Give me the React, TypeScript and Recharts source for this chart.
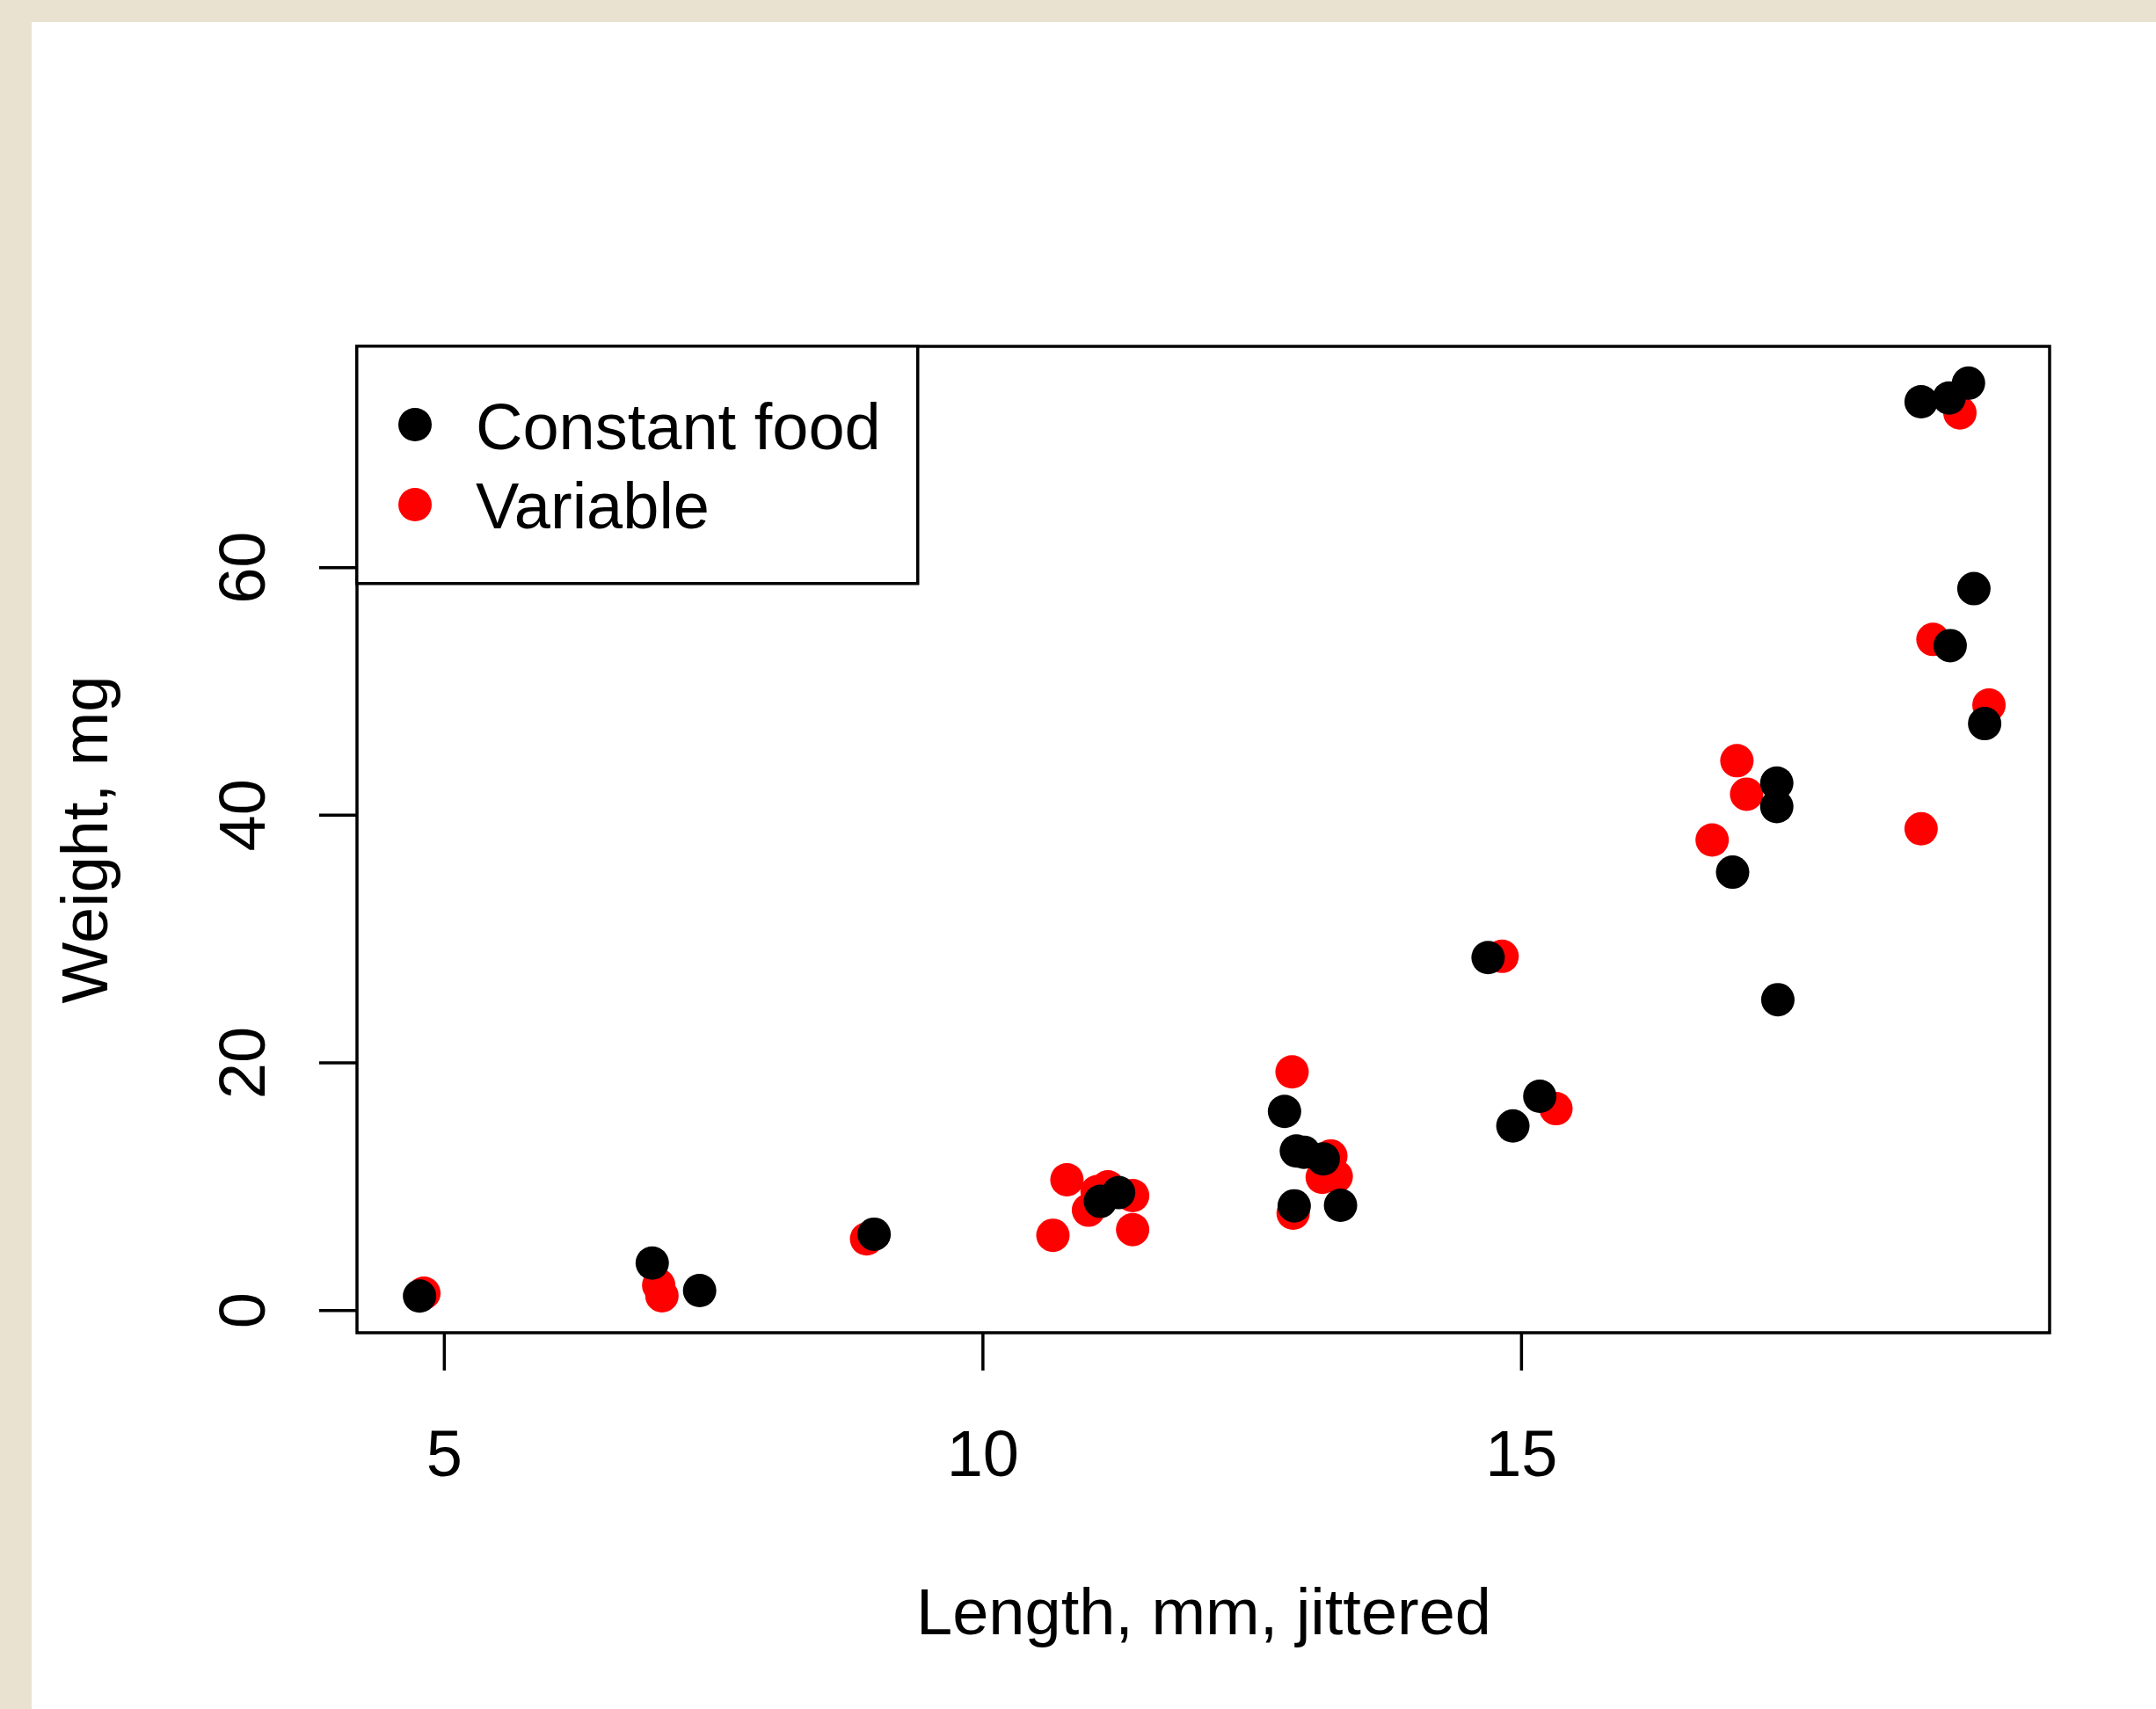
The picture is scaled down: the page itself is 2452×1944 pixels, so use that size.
import React from 'react';
import { ScatterChart, Scatter, XAxis, YAxis, ReferenceArea, Legend } from 'recharts';

// lizard lengths (mm, jittered) and weights (mg)
const constantLength = [4.77, 6.93, 7.37, 8.99, 11.09, 11.26, 12.80, 12.91, 12.98, 13.16, 12.89, 13.32, 14.69, 14.92, 15.17, 16.96, 17.37, 17.37, 17.38, 18.71, 18.97, 19.15, 19.20, 18.98, 19.30];
const constantWeight = [1.16, 3.83, 1.61, 6.16, 8.81, 9.52, 16.08, 12.88, 12.78, 12.24, 8.45, 8.50, 28.5, 14.9, 17.3, 35.4, 42.6, 40.7, 25.1, 73.4, 73.7, 74.9, 58.3, 53.7, 47.4];
const variableLength = [4.81, 6.99, 7.02, 8.92, 10.65, 10.78, 10.98, 11.06, 11.16, 11.39, 11.39, 12.87, 13.23, 13.15, 13.28, 12.88, 14.82, 15.32, 16.77, 17.00, 17.09, 18.71, 19.07, 18.82, 19.34];
const variableWeight = [1.40, 2.04, 1.19, 5.78, 6.07, 10.56, 8.10, 9.60, 9.99, 9.28, 6.53, 19.27, 12.48, 10.75, 10.82, 7.86, 28.6, 16.3, 38.0, 44.4, 41.7, 38.9, 72.5, 54.2, 48.9];

const xTicks = [5, 10, 15];
const yTicks = [0, 20, 40, 60];
const xDomain = [4.189, 19.903];
const yDomain = [-1.8, 77.87];

const constantData = constantLength.map((x, i) => ({ x, y: constantWeight[i] }));
const variableData = variableLength.map((x, i) => ({ x, y: variableWeight[i] }));

const FONT = '"Liberation Sans", Arial, Helvetica, sans-serif';
const FS = 74;

const Dot = (color: string) => (p: any) => <circle cx={p.cx} cy={p.cy} r={19} fill={color} />;

const XTick = (p: any) => (
  <text x={p.x} y={p.y + 120} textAnchor="middle" fontFamily={FONT} fontSize={FS} fill="#000">
    {p.payload.value}
  </text>
);

const YTick = (p: any) => {
  const x = p.x - 62;
  return (
    <text x={x} y={p.y} transform={`rotate(-90, ${x}, ${p.y})`} textAnchor="middle" fontFamily={FONT} fontSize={FS} fill="#000">
      {p.payload.value}
    </text>
  );
};

const LegendBox = () => {
  const items = [
    { name: 'Constant food', color: '#000' },
    { name: 'Variable', color: '#ff0000' },
  ];
  return (
    <svg width={642} height={274} style={{ display: 'block' }}>
      <rect x={1.75} y={1.75} width={638} height={270} fill="#fff" stroke="#000" strokeWidth={3.5} />
      {items.map((it, i) => (
        <g key={it.name}>
          <circle cx={68} cy={91 + i * 91} r={19} fill={it.color} />
          <text x={137} y={119 + i * 90} fontFamily={FONT} fontSize={FS} fill="#000">{it.name}</text>
        </g>
      ))}
    </svg>
  );
};

export default function App() {
  return (
    <div style={{ position: 'relative', width: 2452, height: 1944, background: '#e9e2d0', overflow: 'hidden' }}>
      <style>{`body{margin:0}`}</style>
      <div style={{ position: 'absolute', left: 36, top: 25, right: 0, bottom: 0, background: '#fff' }} />
      <div style={{ position: 'absolute', left: 0, top: 0 }}>
        <ScatterChart width={2452} height={1944} margin={{ top: 394, right: 121, bottom: 0, left: 0 }}>
          <XAxis
            type="number"
            dataKey="x"
            domain={xDomain}
            ticks={xTicks}
            allowDataOverflow
            height={428}
            tickSize={43}
            tickMargin={0}
            axisLine={false}
            tickLine={{ stroke: '#000', strokeWidth: 3.5 }}
            tick={XTick}
          />
          <YAxis
            type="number"
            dataKey="y"
            domain={yDomain}
            ticks={yTicks}
            allowDataOverflow
            width={406}
            tickSize={43}
            tickMargin={0}
            axisLine={false}
            tickLine={{ stroke: '#000', strokeWidth: 3.5 }}
            tick={YTick}
          />
          <ReferenceArea
            x1={xDomain[0]}
            x2={xDomain[1]}
            y1={yDomain[0]}
            y2={yDomain[1]}
            fill="none"
            fillOpacity={0}
            stroke="#000"
            strokeWidth={3.5}
            ifOverflow="visible"
          />
          <Scatter name="Variable" data={variableData} fill="#ff0000" shape={Dot('#ff0000')} isAnimationActive={false} />
          <Scatter name="Constant food" data={constantData} fill="#000" shape={Dot('#000')} isAnimationActive={false} />
          <Legend
            layout="vertical"
            align="center"
            verticalAlign="middle"
            content={LegendBox}
            wrapperStyle={{ left: 404, top: 392, width: 642, height: 274 }}
          />
        </ScatterChart>
      </div>
      <svg width={2452} height={1944} style={{ position: 'absolute', left: 0, top: 0, pointerEvents: 'none' }}>
        <text x={1369} y={1859} textAnchor="middle" fontFamily={FONT} fontSize={FS} fill="#000">Length, mm, jittered</text>
        <text x={122} y={955} transform="rotate(-90, 122, 955)" textAnchor="middle" fontFamily={FONT} fontSize={FS} fill="#000">Weight, mg</text>
      </svg>
    </div>
  );
}
